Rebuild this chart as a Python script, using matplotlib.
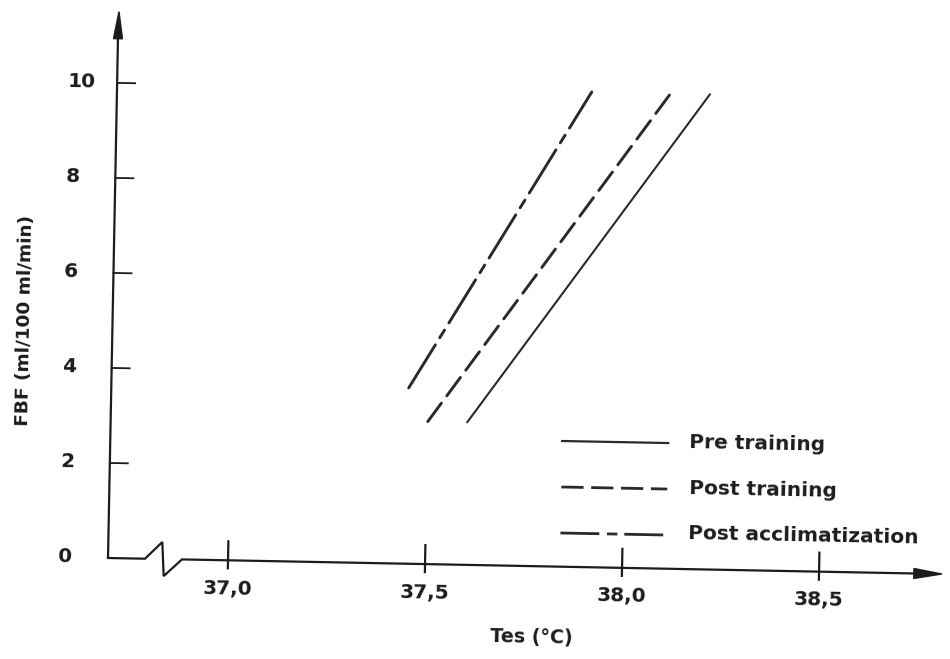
import matplotlib
matplotlib.use("Agg")
import matplotlib.pyplot as plt
from matplotlib.transforms import Affine2D
from matplotlib.patches import Polygon

# ---------------- data ----------------
series_names = ["Pre training", "Post training", "Post acclimatization"]
pre_x = [37.60, 38.20]
pre_y = [3.0, 10.0]
post_x = [37.50, 38.10]
post_y = [3.0, 10.0]
acc_x = [37.45, 37.90]
acc_y = [3.7, 10.0]

x_ticks = [37.0, 37.5, 38.0, 38.5]
x_tick_labels = ["37,0", "37,5", "38,0", "38,5"]
y_ticks = [0, 2, 4, 6, 8, 10]
y_tick_labels = ["0", "2", "4", "6", "8", "10"]
x_label = "Tes (°C)"
y_label = "FBF (ml/100 ml/min)"

# ---------------- layout ----------------
W, H = 950, 659
KX, KY = 394.1, 47.52          # pixels per data unit
X0 = 36.6954                   # x where the y-axis stands
TILT = -1.1                    # the scanned page is slightly rotated

ink = "#1c1c1c"
line_ink = "#2a2a2a"
plt.rcParams["lines.scale_dashes"] = False
plt.rcParams["font.family"] = ["DejaVu Sans"]
FS = 14.5
FW = "bold"

fig = plt.figure(figsize=(W / 100, H / 100), dpi=100)
ax = fig.add_axes([0, 0, 1, 1])
ax.set_xlim(X0 - 108 / KX, X0 + (W - 108) / KX)
ax.set_ylim(-(H - 558) / KY, 558 / KY)
ax.axis("off")

tr = ax.transData + Affine2D().rotate_deg_around(108, H - 558, TILT)


def px(v):
    return v / KX


def py(v):
    return v / KY


txt = dict(fontweight=FW, color=ink, transform=tr)

# y axis with arrow
ax.plot([X0, X0], [0, 11.0], color=ink, lw=1.6, transform=tr, solid_capstyle="butt")
ax.add_patch(Polygon([(X0 - px(4.5), 10.93), (X0 + px(4.5), 10.93), (X0 + px(0.5), 11.5)],
                     closed=True, color=ink, transform=tr))

# x axis with break and arrow
brk_x = [X0, X0 + px(37), X0 + px(54), X0 + px(56), X0 + px(74), X0 + px(808)]
brk_y = [0, 0, py(17), -py(17), 0, 0]
ax.plot(brk_x, brk_y, color=ink, lw=1.6, transform=tr, solid_joinstyle="miter")
ax.add_patch(Polygon([(X0 + px(806), -py(5)), (X0 + px(806), py(5)), (X0 + px(834), 0)],
                     closed=True, color=ink, transform=tr))

# ticks and tick labels
for yt, lab in zip(y_ticks, y_tick_labels):
    if yt != 0:
        ax.plot([X0, X0 + px(18)], [yt, yt], color=ink, lw=1.3, transform=tr)
    ax.text(X0 - px(50), yt, lab, ha="left", va="center", rotation=TILT, fontsize=FS, **txt)

for xt, lab in zip(x_ticks, x_tick_labels):
    ax.plot([xt, xt], [-py(8), py(19)], color=ink, lw=1.6, transform=tr)
    ax.text(xt, -0.6, lab, ha="center", va="center", rotation=TILT, fontsize=FS, **txt)

ax.text(37.773, -1.49, x_label, ha="center", va="center", rotation=TILT, fontsize=13.8, **txt)
ax.text(36.473, 4.97, y_label, ha="center", va="center",
        rotation=90 + TILT, rotation_mode="anchor", fontsize=13.3, **txt)

# data lines
styles = [
    dict(ls="-", lw=1.5),
    dict(ls=(0, (16.5, 6.5)), lw=2.1),
    dict(ls=(0, (36.5, 6.0, 6.5, 6.0)), lw=2.1),
]
for (xs, ys), st in zip([(pre_x, pre_y), (post_x, post_y), (acc_x, acc_y)], styles):
    ax.plot(xs, ys, color=line_ink, solid_capstyle="round", dash_capstyle="round",
            transform=tr, **st)

# legend (drawn by hand like the original)
leg_styles = [
    dict(ls="-", lw=1.6),
    dict(ls=(0, (16.0, 5.5)), lw=2.0),
    dict(ls=(0, (28.0, 5.5, 7.5, 5.0)), lw=2.0),
]
leg_y = [2.645, 1.677, 0.709]
for name, st, yy in zip(series_names, leg_styles, leg_y):
    ax.plot([37.842, 38.111], [yy, yy], color=line_ink, transform=tr, **st)
    ax.text(38.165, yy, name, ha="left", va="center", rotation=TILT, fontsize=FS, **txt)

fig.savefig("out.png", dpi=100, facecolor="white")
